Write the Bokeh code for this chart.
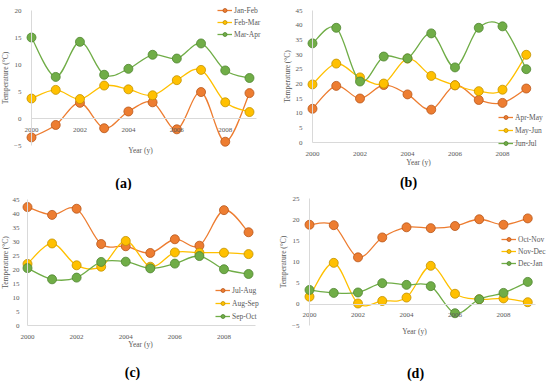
from bokeh.plotting import figure
from bokeh.models import (Legend, LegendItem, Label, FixedTicker, ColumnDataSource, Range1d)
from bokeh.layouts import gridplot
from bokeh.embed import file_html
from bokeh.resources import INLINE

# ---------------- data ----------------
years = [2000, 2001, 2002, 2003, 2004, 2005, 2006, 2007, 2008, 2009]
x_ticks = [2000, 2002, 2004, 2006, 2008]

jan_feb = [-3.5, -1.2, 2.9, -1.8, 1.3, 3.0, -2.0, 4.9, -4.3, 4.7]
feb_mar = [3.7, 5.3, 3.6, 6.1, 5.4, 4.3, 7.1, 9.0, 3.0, 1.2]
mar_apr = [15.0, 7.7, 14.2, 8.1, 9.2, 11.8, 11.1, 13.9, 8.9, 7.5]

apr_may = [11.5, 19.3, 15.0, 19.6, 16.4, 11.2, 19.5, 14.5, 13.5, 18.4]
may_jun = [19.8, 26.9, 22.2, 20.1, 28.6, 22.7, 19.5, 17.5, 18.0, 29.9]
jun_jul = [33.8, 39.1, 20.8, 29.3, 28.7, 37.2, 25.6, 39.1, 39.6, 25.0]

jul_aug = [42.3, 39.5, 41.7, 29.1, 28.3, 25.9, 30.8, 28.5, 41.2, 33.3]
aug_sep = [22.0, 29.3, 21.5, 21.0, 30.2, 21.0, 26.1, 26.0, 26.0, 25.5]
sep_oct = [20.5, 16.5, 17.1, 22.7, 22.8, 20.4, 22.1, 24.8, 20.1, 18.4]

oct_nov = [18.8, 18.7, 11.1, 15.8, 18.2, 18.0, 18.5, 20.1, 18.8, 20.3]
nov_dec = [1.8, 9.8, 0.2, 0.8, 1.6, 9.1, 2.5, 1.2, 1.4, 0.5]
dec_jan = [3.4, 2.7, 2.8, 5.0, 4.6, 4.3, -2.1, 1.2, 2.7, 5.3]

yt_a = [-5, 0, 5, 10, 15, 20]
yt_b = [0, 5, 10, 15, 20, 25, 30, 35, 40, 45]
yt_c = [0, 5, 10, 15, 20, 25, 30, 35, 40, 45]
yt_d = [-5, 0, 5, 10, 15, 20, 25]

# ---------------- style ----------------
SERIF = "Liberation Serif"
FILLS = ["#ED7D31", "#FFC000", "#70AD47"]
EDGES = ["#B8571A", "#C29200", "#4F8530"]
TXT = "#595959"
AXC = "#D9D9D9"


def smooth_source(xs, ys):
    n = len(xs)
    d = dict(x0=[], y0=[], x1=[], y1=[], cx0=[], cy0=[], cx1=[], cy1=[])
    for i in range(n - 1):
        a = max(i - 1, 0)
        b = min(i + 2, n - 1)
        d["x0"].append(xs[i]); d["y0"].append(ys[i])
        d["x1"].append(xs[i + 1]); d["y1"].append(ys[i + 1])
        d["cx0"].append(xs[i] + (xs[i + 1] - xs[a]) / 6)
        d["cy0"].append(ys[i] + (ys[i + 1] - ys[a]) / 6)
        d["cx1"].append(xs[i + 1] - (xs[b] - xs[i]) / 6)
        d["cy1"].append(ys[i + 1] - (ys[b] - ys[i]) / 6)
    return ColumnDataSource(d)


def x_range_for(px2000, px_per_year, width):
    return Range1d(2000 - px2000 / px_per_year, 2000 + (width - px2000) / px_per_year)


def y_range_for(vtop, pxtop, vbot, pxbot, height):
    s = (pxbot - pxtop) / (vtop - vbot)
    return Range1d(vbot - (height - pxbot) / s, vtop + pxtop / s)


def panel(series, names, yticks, width, height, px2000, pxyear, pxtop, pxbot,
          leg_xy, leg_spacing, letter, year_xy, let_xy, lab_standoff, ax_standoff):
    p = figure(width=width, height=height, output_backend="svg", toolbar_location=None,
               x_range=x_range_for(px2000, pxyear, width),
               y_range=y_range_for(yticks[-1], pxtop, yticks[0], pxbot, height),
               min_border=0, min_border_left=0, min_border_right=0,
               min_border_top=0, min_border_bottom=0)
    p.outline_line_color = None
    p.xgrid.visible = False
    p.ygrid.visible = False

    items = []
    for ys, name, fc, ec in zip(series, names, FILLS, EDGES):
        src = smooth_source(years, ys)
        r1 = p.bezier(x0="x0", y0="y0", x1="x1", y1="y1", cx0="cx0", cy0="cy0",
                      cx1="cx1", cy1="cy1", source=src, line_color=fc, line_width=1.3)
        r2 = p.scatter(years, ys, size=9, fill_color=fc, line_color=ec, line_width=0.8)
        items.append(LegendItem(label=name, renderers=[r1, r2]))

    leg = Legend(items=items, location=leg_xy, background_fill_alpha=0,
                 border_line_alpha=0, padding=0, margin=0, spacing=leg_spacing,
                 glyph_height=10, glyph_width=15, label_height=10, label_standoff=2,
                 label_text_font=SERIF, label_text_font_size="7.5px",
                 label_text_color=TXT)
    p.add_layout(leg, "center")

    xa = p.xaxis[0]
    xa.fixed_location = 0
    xa.bounds = (2000, 2009.3)
    xa.ticker = FixedTicker(ticks=x_ticks)
    xa.axis_line_color = AXC
    xa.major_tick_line_color = None
    xa.minor_tick_line_color = None
    xa.major_label_text_font = SERIF
    xa.major_label_text_font_size = "7px"
    xa.major_label_text_color = TXT
    xa.major_label_standoff = 3

    ya = p.yaxis[0]
    ya.fixed_location = 2000
    ya.bounds = (yticks[0], yticks[-1])
    ya.ticker = FixedTicker(ticks=yticks)
    ya.axis_line_color = AXC
    ya.major_tick_line_color = None
    ya.minor_tick_line_color = None
    ya.major_label_text_font = SERIF
    ya.major_label_text_font_size = "7px"
    ya.major_label_text_color = TXT
    ya.major_label_standoff = lab_standoff
    ya.axis_label = "Temperature (°C)"
    ya.axis_label_text_font = SERIF
    ya.axis_label_text_font_size = "7.5px"
    ya.axis_label_text_font_style = "normal"
    ya.axis_label_text_color = TXT
    ya.axis_label_standoff = ax_standoff

    p.add_layout(Label(x=year_xy[0], y=year_xy[1], x_units="screen", y_units="screen",
                       text="Year (y)", text_font=SERIF, text_font_size="7.5px",
                       text_color=TXT, text_align="center", text_baseline="middle"))
    p.add_layout(Label(x=let_xy[0], y=let_xy[1], x_units="screen", y_units="screen",
                       text=letter, text_font=SERIF, text_font_size="14px",
                       text_font_style="bold", text_color="#000000",
                       text_align="center", text_baseline="middle"))
    return p


pa = panel([jan_feb, feb_mar, mar_apr], ["Jan-Feb", "Feb-Mar", "Mar-Apr"], yt_a,
           275, 190, 31, 24.22, 10, 145, (217, 151), 2, "(a)", (140, 40), (123, 7), 4, 1)
pb = panel([apr_may, may_jun, jun_jul], ["Apr-May", "May-Jun", "Jun-Jul"], yt_b,
           275, 190, 37, 23.75, 10, 142, (223, 42), 3, "(b)", (143, 28), (133, 8), 4, 1)
pc = panel([jul_aug, aug_sep, sep_oct], ["Jul-Aug", "Aug-Sep", "Sep-Oct"], yt_c,
           275, 193, 27, 24.56, 9, 135, (215, 62), 3, "(c)", (140, 39), (132, 11), 2, 0)
pd = panel([oct_nov, nov_dec, dec_jan], ["Oct-Nov", "Nov-Dec", "Dec-Jan"], yt_d,
           275, 193, 34, 24.25, 8, 135, (226, 115), 2, "(d)", (139, 52), (140, 10), 4, 1)

grid = gridplot([[pa, pb], [pc, pd]], toolbar_location=None)

open("out.html", "w").write(file_html(grid, INLINE))
